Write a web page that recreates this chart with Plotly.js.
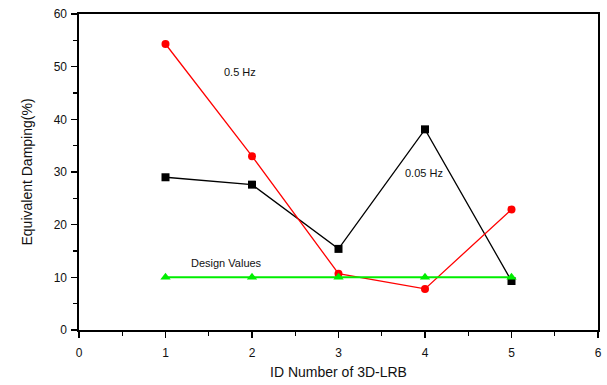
<!DOCTYPE html>
<html><head><meta charset="utf-8">
<script src="https://cdn.plot.ly/plotly-3.0.1.min.js"></script>
<style>html,body{margin:0;padding:0;background:#fff;}#chart{width:607px;height:385px;}</style>
</head><body><div id="chart"></div>
<script>
const ids = [1, 2, 3, 4, 5];
const hz005 = [29.0, 27.6, 15.4, 38.1, 9.3];
const hz05 = [54.3, 33.0, 10.7, 7.8, 22.9];
const design = [10, 10, 10, 10, 10];
const xTicks = [0, 1, 2, 3, 4, 5, 6];
const yTicks = [0, 10, 20, 30, 40, 50, 60];

const traces = [
  {x: ids, y: hz005, mode: 'lines+markers', name: '0.05 Hz',
   line: {color: '#000000', width: 1.3}, marker: {symbol: 'square', size: 8, color: '#000000'}},
  {x: ids, y: hz05, mode: 'lines+markers', name: '0.5 Hz',
   line: {color: '#ff0000', width: 1.3}, marker: {symbol: 'circle', size: 8, color: '#ff0000'}},
  {x: ids, y: design, mode: 'lines+markers', name: 'Design Values',
   line: {color: '#00ee00', width: 2}, marker: {symbol: 'triangle-up', size: 9, color: '#00ee00'}}
];

const font = {family: 'Liberation Sans, Arial, sans-serif', color: '#111'};
const layout = {
  width: 607, height: 385,
  margin: {l: 79, r: 9, t: 14, b: 55},
  showlegend: false,
  paper_bgcolor: '#fff', plot_bgcolor: '#fff',
  font: font,
  xaxis: {
    range: [0, 6], tickvals: xTicks, ticktext: xTicks.map(String),
    ticks: 'outside', ticklen: 6, tickwidth: 1.3, tickcolor: '#000',
    showline: true, linecolor: '#000', linewidth: 1.6, mirror: true,
    showgrid: false, zeroline: false, ticklabelstandoff: 5,
    tickfont: {size: 12, family: font.family, color: '#111'},
    minor: {ticks: 'outside', dtick: 0.5, ticklen: 4, tickcolor: '#000', showgrid: false},
    title: {text: 'ID Number of 3D-LRB', font: {size: 14, family: font.family, color: '#111'}, standoff: 8}
  },
  yaxis: {
    range: [0, 60], tickvals: yTicks, ticktext: yTicks.map(String),
    ticks: 'outside', ticklen: 6, tickwidth: 1.3, tickcolor: '#000',
    showline: true, linecolor: '#000', linewidth: 1.6, mirror: true,
    showgrid: false, zeroline: false, ticklabelstandoff: 2,
    tickfont: {size: 12, family: font.family, color: '#111'},
    minor: {ticks: 'outside', dtick: 5, ticklen: 4, tickcolor: '#000', showgrid: false},
    title: {text: 'Equivalent Damping(%)', font: {size: 14, family: font.family, color: '#111'}, standoff: 18}
  },
  annotations: [
    {x: 1.86, y: 49, text: '0.5 Hz', showarrow: false, font: {size: 11, family: font.family, color: '#111'}},
    {x: 3.99, y: 29.9, text: '0.05 Hz', showarrow: false, font: {size: 11, family: font.family, color: '#111'}},
    {x: 1.70, y: 12.8, text: 'Design Values', showarrow: false, font: {size: 11, family: font.family, color: '#111'}}
  ]
};
Plotly.newPlot('chart', traces, layout, {displayModeBar: false, staticPlot: true});
</script></body></html>
